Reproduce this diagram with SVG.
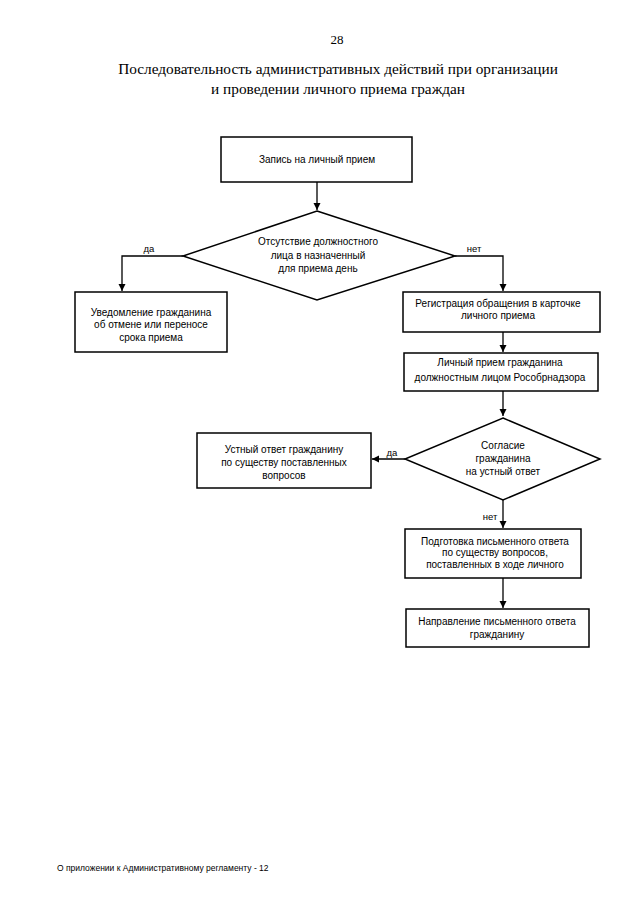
<svg xmlns="http://www.w3.org/2000/svg" width="640" height="905" viewBox="0 0 640 905">
<style>
.bg{fill:#fff}
.box{fill:#fff;stroke:#000;stroke-width:1.5}
.t{font-family:"Liberation Sans",Arial,sans-serif;font-size:10px;fill:#000;text-anchor:middle}
.lbl{font-family:"Liberation Sans",Arial,sans-serif;font-size:9.5px;fill:#000;text-anchor:middle}
.ttl{font-family:"Liberation Serif","Times New Roman",serif;font-size:15.3px;fill:#000;text-anchor:middle}
.ln{fill:none;stroke:#000;stroke-width:1.3}
</style>
<defs>
<marker id="ah" markerWidth="8" markerHeight="8" refX="7" refY="4" orient="auto" markerUnits="userSpaceOnUse">
<path d="M0,0.5 L7,4 L0,7.5 Z" fill="#000"/>
</marker>
</defs>
<rect class="bg" x="0" y="0" width="640" height="905"/>
<text class="ttl" x="337" y="44" style="font-size:13px">28</text>
<text class="ttl" x="338" y="74">Последовательность административных действий при организации</text>
<text class="ttl" x="338" y="94">и проведении личного приема граждан</text>

<g id="connectors">
<line class="ln" x1="317" y1="182" x2="317" y2="210" marker-end="url(#ah)"/>
<polyline class="ln" points="183,256 122,256 122,291" marker-end="url(#ah)"/>
<polyline class="ln" points="455,256 503,256 503,291" marker-end="url(#ah)"/>
<line class="ln" x1="503" y1="332" x2="503" y2="352" marker-end="url(#ah)"/>
<line class="ln" x1="503" y1="391" x2="503" y2="416" marker-end="url(#ah)"/>
<line class="ln" x1="405" y1="459" x2="372" y2="459" marker-end="url(#ah)"/>
<line class="ln" x1="503" y1="500" x2="503" y2="528" marker-end="url(#ah)"/>
<line class="ln" x1="503" y1="578" x2="503" y2="608" marker-end="url(#ah)"/>
<text class="lbl" x="149" y="252">да</text>
<text class="lbl" x="474" y="252">нет</text>
<text class="lbl" x="392" y="456">да</text>
<text class="lbl" x="490" y="520">нет</text>
</g>

<g id="n1">
<rect class="box" x="221" y="137" width="191" height="45"/>
<text class="t" x="317" y="163">Запись на личный прием</text>
</g>
<g id="d1">
<polygon class="box" points="317,211 455,256 317,300 183,256"/>
<text class="t" x="318" y="245">Отсутствие должностного</text>
<text class="t" x="318" y="259">лица в назначенный</text>
<text class="t" x="318" y="272">для приема день</text>
</g>
<g id="n2">
<rect class="box" x="75" y="292" width="152" height="60"/>
<text class="t" x="151" y="316">Уведомление гражданина</text>
<text class="t" x="151" y="328">об отмене или переносе</text>
<text class="t" x="151" y="341">срока приема</text>
</g>
<g id="n3">
<rect class="box" x="403" y="292" width="197" height="40"/>
<text class="t" x="498" y="307">Регистрация обращения в карточке</text>
<text class="t" x="498" y="319">личного приема</text>
</g>
<g id="n4">
<rect class="box" x="404" y="353" width="194" height="38"/>
<text class="t" x="500" y="366">Личный прием гражданина</text>
<text class="t" x="500" y="381">должностным лицом Рособрнадзора</text>
</g>
<g id="d2">
<polygon class="box" points="503,418 600,459 503,500 405,459"/>
<text class="t" x="503" y="449">Согласие</text>
<text class="t" x="503" y="462">гражданина</text>
<text class="t" x="503" y="475">на устный ответ</text>
</g>
<g id="n5">
<rect class="box" x="197" y="433" width="174" height="55"/>
<text class="t" x="284" y="453">Устный ответ гражданину</text>
<text class="t" x="284" y="466">по существу поставленных</text>
<text class="t" x="284" y="479">вопросов</text>
</g>
<g id="n6">
<rect class="box" x="405" y="529" width="176" height="49"/>
<text class="t" x="495" y="545">Подготовка письменного ответа</text>
<text class="t" x="495" y="556">по существу вопросов,</text>
<text class="t" x="495" y="568">поставленных в ходе личного</text>
</g>
<g id="n7">
<rect class="box" x="406" y="609" width="183" height="38"/>
<text class="t" x="497" y="625">Направление письменного ответа</text>
<text class="t" x="497" y="638">гражданину</text>
</g>
<text x="57" y="871" style="font-family:'Liberation Sans',Arial,sans-serif;font-size:8.5px;fill:#000">О приложении к Административному регламенту - 12</text>
</svg>
